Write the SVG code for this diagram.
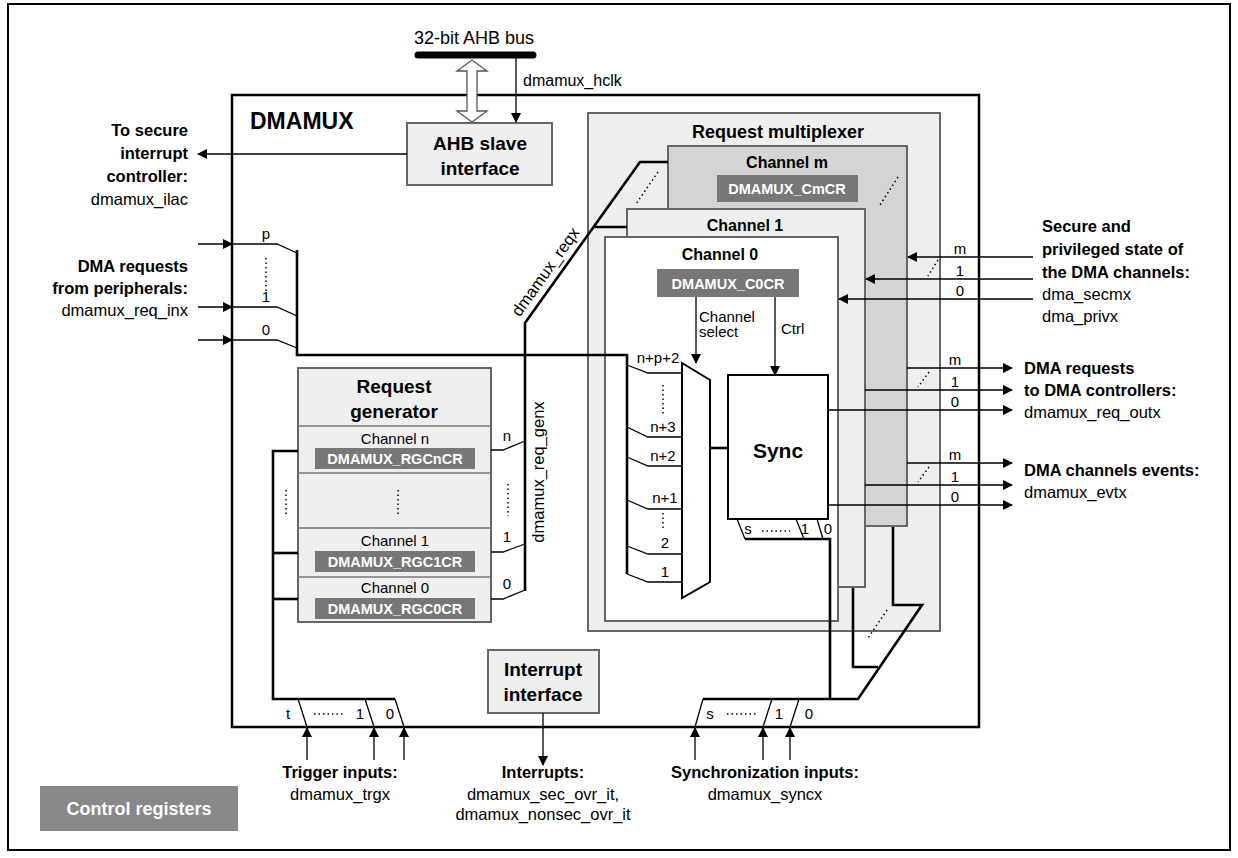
<svg xmlns="http://www.w3.org/2000/svg" width="1238" height="858" viewBox="0 0 1238 858">
<style>
text{font-family:"Liberation Sans",Arial,sans-serif;fill:#000}
.b{font-weight:bold}
.t14{font-size:15px}.t15{font-size:16px}.t16{font-size:16.5px}.t17{font-size:18px}
.box{fill:#efefef;stroke:#666;stroke-width:2}
.reg{fill:#777}
.rt{fill:#fff;font-weight:bold;font-size:14.5px}
.w{fill:none;stroke:#000;stroke-width:1.3}
.k{fill:none;stroke:#000;stroke-width:2.6}
.d{fill:none;stroke:#000;stroke-width:1.5;stroke-dasharray:1.5 3}
</style>
<defs>
<marker id="ar" markerWidth="10" markerHeight="10" refX="9" refY="5" orient="auto" markerUnits="userSpaceOnUse" viewBox="0 0 10 10">
<path d="M0,0 L10,5 L0,10 z" fill="#000"/>
</marker>
</defs>
<rect x="8" y="4" width="1222" height="846" fill="#fff" stroke="#000" stroke-width="2"/>

<g id="dmamux">
<rect x="232" y="95" width="747" height="632" fill="#fff" stroke="#000" stroke-width="2.5"/>
<text x="250" y="129" class="b" font-size="23">DMAMUX</text>
</g>

<g id="bus">
<line x1="418" y1="55" x2="533" y2="55" stroke="#000" stroke-width="7" stroke-linecap="round"/>
<text x="474" y="44" class="t17" text-anchor="middle">32-bit AHB bus</text>
<path d="M472,60 L487,71 L477,71 L477,111 L487,111 L472,122 L457,111 L467,111 L467,71 L457,71 z" fill="#fff" stroke="#555" stroke-width="1.3"/>
<text x="523" y="86" class="t15">dmamux_hclk</text>
</g>

<g id="ahb">
<rect x="407" y="123" width="145" height="62" class="box"/>
<text x="480" y="150" class="b" font-size="19" text-anchor="middle">AHB slave</text>
<text x="480" y="175" class="b" font-size="19" text-anchor="middle">interface</text>
</g>

<g id="reqmux">
<rect x="588" y="113" width="352" height="518" class="box"/>
<text x="778" y="138" class="b t17" text-anchor="middle">Request multiplexer</text>
</g>
<g id="chm">
<rect x="668" y="146" width="239" height="380" fill="#d4d4d4" stroke="#666" stroke-width="2"/>
<text x="787" y="168" class="b t15" text-anchor="middle">Channel m</text>
<rect x="717" y="175" width="141" height="27" class="reg"/>
<text x="787" y="194" class="rt" text-anchor="middle">DMAMUX_CmCR</text>
</g>
<g id="ch1">
<rect x="627" y="209" width="238" height="378" class="box"/>
<text x="745" y="231" class="b t15" text-anchor="middle">Channel 1</text>
</g>
<g id="ch0">
<rect x="605" y="237" width="233" height="384" fill="#fff" stroke="#666" stroke-width="2"/>
<text x="720" y="260" class="b t15" text-anchor="middle">Channel 0</text>
<rect x="657" y="269" width="142" height="28" class="reg"/>
<text x="728" y="289" class="rt" text-anchor="middle">DMAMUX_C0CR</text>
</g>

<g id="mux">
<polygon points="682,363 710,380 710,582 682,598" fill="#fff" stroke="#000" stroke-width="2"/>
</g>
<g id="sync">
<rect x="728" y="375" width="100" height="144" fill="#fff" stroke="#000" stroke-width="2"/>
<text x="778" y="458" class="b" font-size="21" text-anchor="middle">Sync</text>
</g>

<g id="reqgen">
<rect x="298" y="368" width="193" height="254" class="box"/>
<text x="394" y="393" class="b" font-size="19" text-anchor="middle">Request</text>
<text x="394" y="418" class="b" font-size="19" text-anchor="middle">generator</text>
<g stroke="#777" stroke-width="1.3">
<line x1="298" y1="426" x2="491" y2="426"/><line x1="298" y1="473" x2="491" y2="473"/>
<line x1="298" y1="528" x2="491" y2="528"/><line x1="298" y1="577" x2="491" y2="577"/>
</g>
<text x="395" y="444" class="t14" text-anchor="middle">Channel n</text>
<rect x="315" y="448" width="160" height="21" class="reg"/>
<text x="395" y="464" class="rt" text-anchor="middle">DMAMUX_RGCnCR</text>
<line x1="398" y1="490" x2="398" y2="516" class="d"/>
<text x="395" y="546" class="t14" text-anchor="middle">Channel 1</text>
<rect x="315" y="551" width="160" height="21" class="reg"/>
<text x="395" y="567" class="rt" text-anchor="middle">DMAMUX_RGC1CR</text>
<text x="395" y="593" class="t14" text-anchor="middle">Channel 0</text>
<rect x="315" y="598" width="160" height="21" class="reg"/>
<text x="395" y="614" class="rt" text-anchor="middle">DMAMUX_RGC0CR</text>
</g>

<g id="intf">
<rect x="488" y="650" width="111" height="63" class="box"/>
<text x="543" y="676" class="b" font-size="19" text-anchor="middle">Interrupt</text>
<text x="543" y="701" class="b" font-size="19" text-anchor="middle">interface</text>
</g>

<g id="legend">
<rect x="40" y="786" width="198" height="45" fill="#888"/>
<text x="139" y="815" class="b" font-size="18" style="fill:#fff" text-anchor="middle">Control registers</text>
</g>

<g id="connectors">
<line x1="516" y1="55" x2="516" y2="122" class="w" marker-end="url(#ar)"/>
<line x1="407" y1="154" x2="198" y2="154" class="w" marker-end="url(#ar)"/>
<line x1="198" y1="244" x2="232" y2="244" class="w" marker-end="url(#ar)"/>
<line x1="198" y1="307" x2="232" y2="307" class="w" marker-end="url(#ar)"/>
<line x1="198" y1="340" x2="232" y2="340" class="w" marker-end="url(#ar)"/>
<polyline points="232,244 277,244 297,253" class="w"/>
<polyline points="232,307 277,307 297,316" class="w"/>
<polyline points="232,340 277,340 297,348" class="w"/>
<line x1="266" y1="258" x2="266" y2="292" class="d"/>
<polyline points="297,250 297,355 627,355 627,574" class="k"/>
<polyline points="525,355 525,323 640,162 668,162" class="k"/>
<line x1="593" y1="227" x2="627" y2="227" class="k"/>
<line x1="658" y1="172" x2="636" y2="204" class="d"/>
<line x1="525" y1="355" x2="525" y2="591" class="k"/>
<polyline points="491,450 503,450 525,441" class="w"/>
<polyline points="491,552 503,552 525,544" class="w"/>
<polyline points="491,599 503,599 525,590" class="w"/>
<line x1="508" y1="484" x2="508" y2="516" class="d"/>
<polyline points="627,365 648,373 682,373" class="w"/>
<polyline points="627,427 648,437 682,437" class="w"/>
<polyline points="627,457 648,466 682,466" class="w"/>
<polyline points="627,500 648,509 682,509" class="w"/>
<polyline points="627,546 648,554 682,554" class="w"/>
<polyline points="627,574 648,582 682,582" class="w"/>
<line x1="663" y1="385" x2="663" y2="415" class="d"/>
<line x1="663" y1="513" x2="663" y2="530" class="d"/>
<line x1="710" y1="448" x2="728" y2="448" class="k"/>
<line x1="696" y1="297" x2="696" y2="363" class="w" marker-end="url(#ar)"/>
<line x1="775" y1="297" x2="775" y2="375" class="w" marker-end="url(#ar)"/>
<polyline points="745,539 830,539 830,699" class="k"/>
<line x1="745" y1="539" x2="737" y2="519" class="w"/>
<line x1="796" y1="519" x2="804" y2="539" class="w"/>
<line x1="817" y1="519" x2="823" y2="539" class="w"/>
<line x1="762" y1="531" x2="790" y2="531" class="d"/>
<polyline points="703,699 858,699 922,605 893,605 893,527" class="k"/>
<polyline points="853,588 853,667 878,667" class="k"/>
<line x1="887" y1="610" x2="868" y2="638" class="d"/>
<line x1="703" y1="699" x2="695" y2="727" class="w"/>
<line x1="772" y1="699" x2="763" y2="727" class="w"/>
<line x1="799" y1="699" x2="790" y2="727" class="w"/>
<line x1="727" y1="714" x2="757" y2="714" class="d"/>
<line x1="695" y1="760" x2="695" y2="728" class="w" marker-end="url(#ar)"/>
<line x1="763" y1="760" x2="763" y2="728" class="w" marker-end="url(#ar)"/>
<line x1="790" y1="760" x2="790" y2="728" class="w" marker-end="url(#ar)"/>
<polyline points="298,451 273,451 273,699 395,699" class="k"/>
<line x1="273" y1="553" x2="298" y2="553" class="k"/>
<line x1="273" y1="599" x2="298" y2="599" class="k"/>
<line x1="286" y1="490" x2="286" y2="516" class="d"/>
<line x1="298" y1="699" x2="307" y2="727" class="w"/>
<line x1="365" y1="699" x2="374" y2="727" class="w"/>
<line x1="395" y1="699" x2="404" y2="727" class="w"/>
<line x1="314" y1="714" x2="345" y2="714" class="d"/>
<line x1="307" y1="760" x2="307" y2="728" class="w" marker-end="url(#ar)"/>
<line x1="374" y1="760" x2="374" y2="728" class="w" marker-end="url(#ar)"/>
<line x1="404" y1="760" x2="404" y2="728" class="w" marker-end="url(#ar)"/>
<line x1="543" y1="713" x2="543" y2="765" class="w" marker-end="url(#ar)"/>
<line x1="1033" y1="257" x2="908" y2="257" class="w" marker-end="url(#ar)"/>
<line x1="1033" y1="279" x2="866" y2="279" class="w" marker-end="url(#ar)"/>
<line x1="1033" y1="299" x2="839" y2="299" class="w" marker-end="url(#ar)"/>
<line x1="938" y1="260" x2="928" y2="276" class="d"/>
<line x1="898" y1="177" x2="880" y2="205" class="d"/>
<line x1="907" y1="368" x2="1012" y2="368" class="w" marker-end="url(#ar)"/>
<line x1="865" y1="390" x2="1012" y2="390" class="w" marker-end="url(#ar)"/>
<line x1="828" y1="410" x2="1012" y2="410" class="w" marker-end="url(#ar)"/>
<line x1="929" y1="372" x2="918" y2="387" class="d"/>
<line x1="907" y1="463" x2="1012" y2="463" class="w" marker-end="url(#ar)"/>
<line x1="865" y1="485" x2="1012" y2="485" class="w" marker-end="url(#ar)"/>
<line x1="828" y1="505" x2="1012" y2="505" class="w" marker-end="url(#ar)"/>
<line x1="929" y1="467" x2="918" y2="482" class="d"/>
</g>

<g id="labels">
<text x="188" y="136" class="b t16" text-anchor="end">To secure</text>
<text x="188" y="159" class="b t16" text-anchor="end">interrupt</text>
<text x="188" y="182" class="b t16" text-anchor="end">controller:</text>
<text x="188" y="205" class="t16" text-anchor="end">dmamux_ilac</text>
<text x="188" y="272" class="b t16" text-anchor="end">DMA requests</text>
<text x="188" y="294" class="b t16" text-anchor="end">from peripherals:</text>
<text x="188" y="316" class="t16" text-anchor="end">dmamux_req_inx</text>
<text x="266" y="239" class="t14" text-anchor="middle">p</text>
<text x="266" y="302" class="t14" text-anchor="middle">1</text>
<text x="266" y="335" class="t14" text-anchor="middle">0</text>
<text x="550" y="275" class="t16" text-anchor="middle" transform="rotate(-54.5 550 275)">dmamux_reqx</text>
<text x="544" y="472" class="t16" text-anchor="middle" transform="rotate(-90 544 472)">dmamux_req_genx</text>
<text x="507" y="441" class="t14" text-anchor="middle">n</text>
<text x="507" y="542" class="t14" text-anchor="middle">1</text>
<text x="507" y="589" class="t14" text-anchor="middle">0</text>
<text x="658" y="363" class="t14" text-anchor="middle">n+p+2</text>
<text x="663" y="432" class="t14" text-anchor="middle">n+3</text>
<text x="663" y="461" class="t14" text-anchor="middle">n+2</text>
<text x="665" y="503" class="t14" text-anchor="middle">n+1</text>
<text x="665" y="548" class="t14" text-anchor="middle">2</text>
<text x="665" y="577" class="t14" text-anchor="middle">1</text>
<text x="699" y="322" class="t14">Channel</text>
<text x="699" y="337" class="t14">select</text>
<text x="781" y="334" class="t14">Ctrl</text>
<text x="748" y="534" class="t14" text-anchor="middle">s</text>
<text x="805" y="534" class="t14" text-anchor="middle">1</text>
<text x="828" y="534" class="t14" text-anchor="middle">0</text>
<text x="710" y="719" class="t14" text-anchor="middle">s</text>
<text x="779" y="719" class="t14" text-anchor="middle">1</text>
<text x="809" y="719" class="t14" text-anchor="middle">0</text>
<text x="288" y="719" class="t14" text-anchor="middle">t</text>
<text x="360" y="719" class="t14" text-anchor="middle">1</text>
<text x="390" y="719" class="t14" text-anchor="middle">0</text>
<text x="960" y="254" class="t14" text-anchor="middle">m</text>
<text x="960" y="276" class="t14" text-anchor="middle">1</text>
<text x="960" y="296" class="t14" text-anchor="middle">0</text>
<text x="955" y="365" class="t14" text-anchor="middle">m</text>
<text x="955" y="387" class="t14" text-anchor="middle">1</text>
<text x="955" y="407" class="t14" text-anchor="middle">0</text>
<text x="955" y="460" class="t14" text-anchor="middle">m</text>
<text x="955" y="482" class="t14" text-anchor="middle">1</text>
<text x="955" y="502" class="t14" text-anchor="middle">0</text>
<text x="1042" y="232" class="b t16">Secure and</text>
<text x="1042" y="255" class="b t16">privileged state of</text>
<text x="1042" y="278" class="b t16">the DMA channels:</text>
<text x="1042" y="300" class="t16">dma_secmx</text>
<text x="1042" y="322" class="t16">dma_privx</text>
<text x="1024" y="374" class="b t16">DMA requests</text>
<text x="1024" y="396" class="b t16">to DMA controllers:</text>
<text x="1024" y="418" class="t16">dmamux_req_outx</text>
<text x="1024" y="476" class="b t16">DMA channels events:</text>
<text x="1024" y="498" class="t16">dmamux_evtx</text>
<text x="340" y="778" class="b t16" text-anchor="middle">Trigger inputs:</text>
<text x="340" y="800" class="t16" text-anchor="middle">dmamux_trgx</text>
<text x="543" y="778" class="b t16" text-anchor="middle">Interrupts:</text>
<text x="543" y="800" class="t16" text-anchor="middle">dmamux_sec_ovr_it,</text>
<text x="543" y="820" class="t16" text-anchor="middle">dmamux_nonsec_ovr_it</text>
<text x="765" y="778" class="b t16" text-anchor="middle">Synchronization inputs:</text>
<text x="765" y="800" class="t16" text-anchor="middle">dmamux_syncx</text>
</g>
</svg>
